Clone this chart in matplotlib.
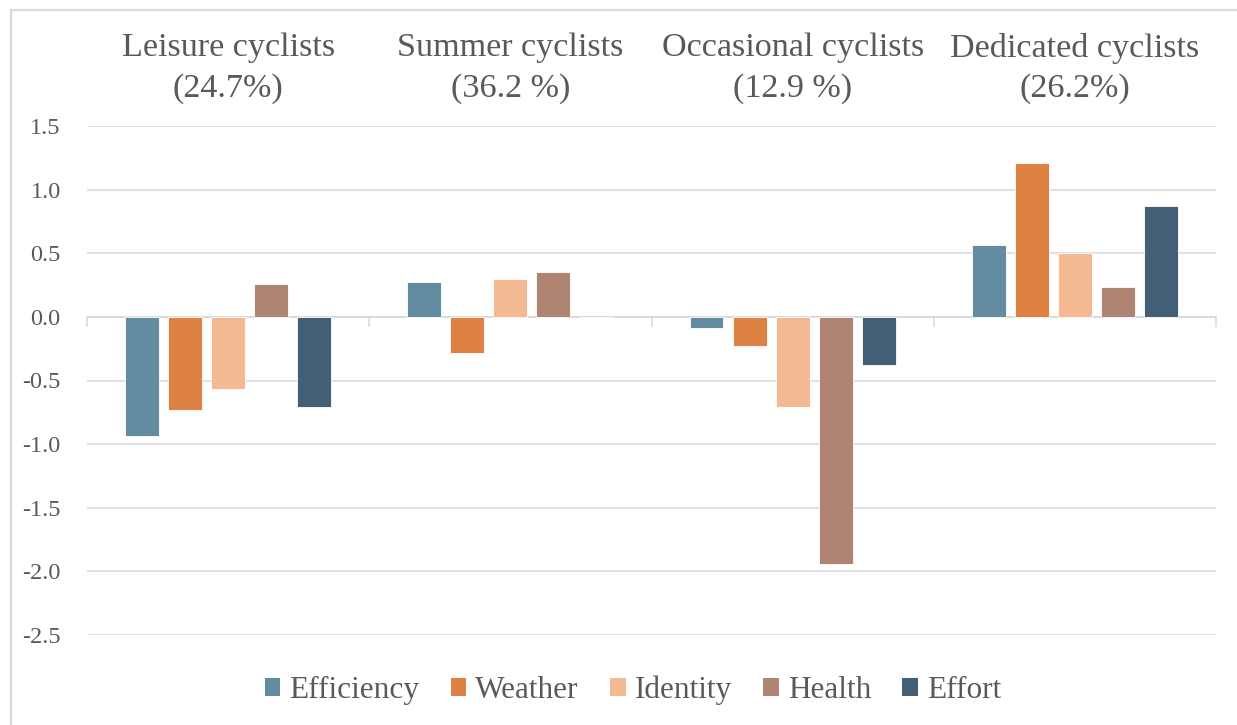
import numpy as np
import matplotlib
matplotlib.use("Agg")
import matplotlib.pyplot as plt
from matplotlib.patches import Patch
from matplotlib.lines import Line2D
import matplotlib.transforms as mtransforms

segments = ["Leisure cyclists\n(24.7%)", "Summer cyclists\n(36.2 %)",
            "Occasional cyclists\n(12.9 %)", "Dedicated cyclists\n(26.2%)"]
factors = ["Efficiency", "Weather", "Identity", "Health", "Effort"]

efficiency = [-0.94, 0.275, -0.09, 0.565]
weather = [-0.73, -0.28, -0.23, 1.21]
identity = [-0.57, 0.30, -0.71, 0.50]
health = [0.26, 0.35, -1.94, 0.235]
effort = [-0.71, 0.0, -0.38, 0.87]

colors = ["#638ca0", "#dd8243", "#f3b993", "#b08473", "#435f75"]
text_col = "#595959"
grid_col = "#d9d9d9"

plt.rcParams['font.family'] = ['Liberation Serif', 'DejaVu Serif']

fig = plt.figure(figsize=(12.37, 7.25), dpi=100)
ax = fig.add_axes([87 / 1237, 1 - 635 / 725, (1216 - 87) / 1237, (635 - 126) / 725])

x = np.arange(len(segments))
step = 0.1525
width = 0.12
series = [efficiency, weather, identity, health, effort]
for i, (vals, c) in enumerate(zip(series, colors)):
    ax.bar(x + (i - 2) * step, vals, width, color=c, edgecolor="white",
           linewidth=0.6, zorder=3)

ax.set_xlim(-0.5, len(segments) - 0.5)
ax.set_ylim(-2.5, 1.5)
ticks = np.arange(-2.5, 1.51, 0.5)
ax.set_yticks(ticks)
ax.set_yticklabels([f"{v:.1f}" for v in ticks])
ax.yaxis.grid(True, color=grid_col, linewidth=1.1, zorder=0)
ax.tick_params(axis="y", length=0, labelsize=17.5, labelcolor=text_col, pad=19)

for s in ["top", "right", "left"]:
    ax.spines[s].set_visible(False)
ax.spines["bottom"].set_position(("data", 0))
ax.spines["bottom"].set_color(grid_col)
ax.spines["bottom"].set_linewidth(1.1)
ax.spines["bottom"].set_zorder(2)
ax.set_xticks(np.arange(-0.5, len(segments), 1.0))
ax.set_xticklabels([])
ax.tick_params(axis="x", direction="out", length=7, width=1.1, color=grid_col)

trans = mtransforms.blended_transform_factory(ax.transData, fig.transFigure)
for xi, lab in zip(x, segments):
    ax.text(xi, 1 - 68.5 / 725, lab, transform=trans, ha="center", va="center",
            fontsize=24.6, color=text_col, linespacing=1.42)

handles = [Patch(facecolor=c, edgecolor="none") for c in colors]
fig.legend(handles, factors, loc="center", bbox_to_anchor=(633 / 1237, 1 - 690 / 725),
           ncol=5, frameon=False, fontsize=22.5, handlelength=0.5, handleheight=0.5,
           handletextpad=0.29, columnspacing=1.0, labelcolor=text_col)

# outer chart frame
fig.add_artist(Line2D([11 / 1237, 1], [1 - 10 / 725] * 2, transform=fig.transFigure,
                      color=grid_col, linewidth=1.6))
fig.add_artist(Line2D([11 / 1237] * 2, [0, 1 - 10 / 725], transform=fig.transFigure,
                      color=grid_col, linewidth=1.6))

fig.savefig("out.png", dpi=100, facecolor="white")
